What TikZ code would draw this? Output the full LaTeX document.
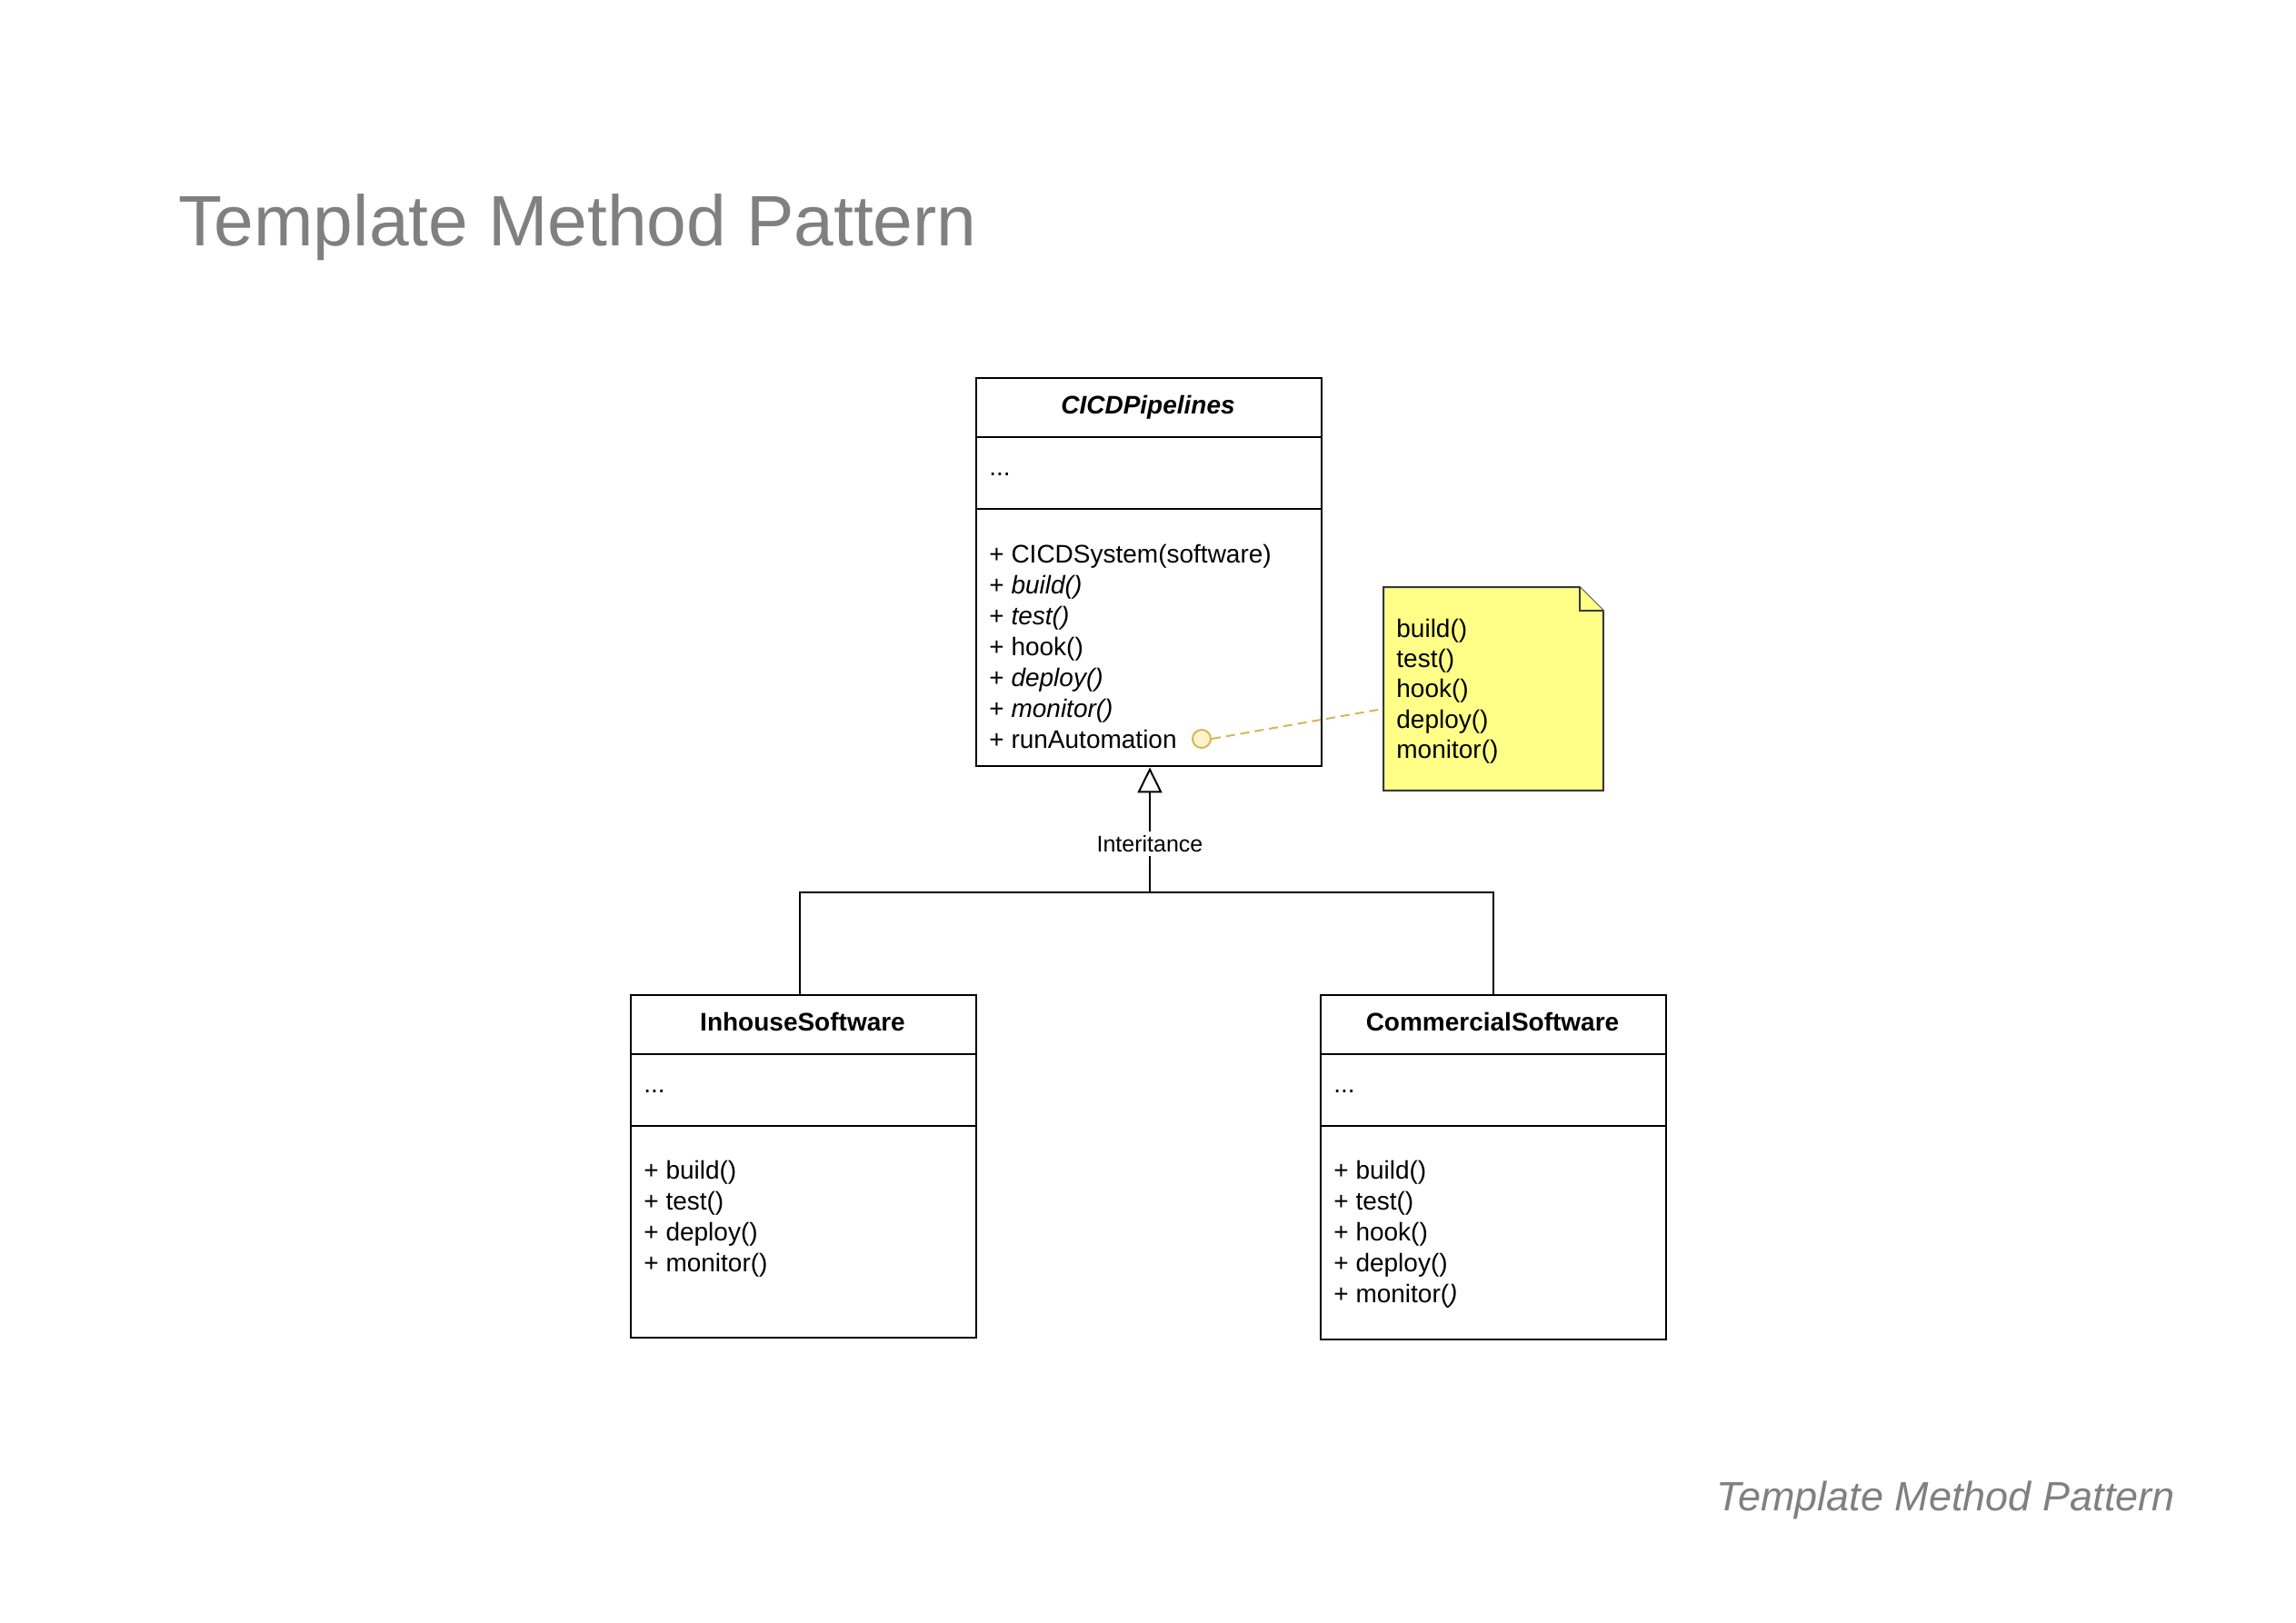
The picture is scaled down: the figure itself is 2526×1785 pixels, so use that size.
\documentclass[tikz,border=0pt]{standalone}
\usepackage{fontspec}
\setmainfont{Liberation Sans}
\usetikzlibrary{arrows.meta}
\definecolor{titlegray}{HTML}{808080}
\definecolor{notefill}{HTML}{FFFF88}
\definecolor{noteline}{HTML}{36393D}
\definecolor{circfill}{HTML}{FFF2CC}
\definecolor{circline}{HTML}{D6B656}
\begin{document}
\begin{tikzpicture}[x=0.5pt,y=-0.5pt,
  classbox/.style={draw, line width=1.2pt, rectangle, anchor=north west, minimum width=190pt, inner sep=0pt},
  sepline/.style={line width=1.2pt},
  member/.style={anchor=base west, inner sep=0pt, font=\fontsize{14}{16}\selectfont},
  ctitle/.style={anchor=base, inner sep=0pt, font=\fontsize{14}{16}\selectfont\bfseries},
  conn/.style={line width=1pt},
  notebox/.style={draw=noteline, fill=notefill, line width=1pt, line join=miter},
  dashline/.style={draw=circline, line width=1pt, dash pattern=on 5pt off 3pt},
  bigtitle/.style={anchor=base west, inner sep=0pt, text=titlegray, font=\fontsize{39.3}{44}\selectfont},
  foottitle/.style={anchor=base east, inner sep=0pt, text=titlegray, font=\fontsize{22.5}{26}\selectfont\itshape}
]
\useasboundingbox (0,0) rectangle (2526,1785);

% titles
\node[bigtitle] (title) at (196,270) {Template Method Pattern};
\node[foottitle] (foot) at (2393,1662) {Template Method Pattern};

% CICDPipelines
\node[classbox, minimum height=213.5pt] (cicd) at (1073,415) {};
\draw[sepline] (cicd.west |- 0,481) -- (cicd.east |- 0,481);
\draw[sepline] (cicd.west |- 0,560) -- (cicd.east |- 0,560);
\node[ctitle] (cicdt) at (1263,455) {\textit{CICDPipelines}};
\node[member] (cicda) at (1088,523) {...};
\node[member] (cm1) at (1088,619) {+ CICDSystem(software)};
\node[member] (cm2) at (1088,653) {+ \textit{build()}};
\node[member] (cm3) at (1088,687) {+ \textit{test()}};
\node[member] (cm4) at (1088,721) {+ hook()};
\node[member] (cm5) at (1088,755) {+ \textit{deploy()}};
\node[member] (cm6) at (1088,789) {+ \textit{monitor()}};
\node[member] (cm7) at (1088,823) {+ runAutomation};
\node[circle, draw=circline, fill=circfill, line width=1pt, minimum size=10pt, inner sep=0pt] (circ) at (1322,813) {};

% note
\node[anchor=north west, minimum width=120.5pt, minimum height=111.5pt, inner sep=0pt] (note) at (1522,646) {};
\draw[notebox] (note.north west) -- ([xshift=-13pt]note.north east) -- ([yshift=-13pt]note.north east) -- (note.south east) -- (note.south west) -- cycle;
\draw[notebox] ([xshift=-13pt]note.north east) -- ([xshift=-13pt,yshift=-13pt]note.north east) -- ([yshift=-13pt]note.north east);
\node[member] (n1) at (1536,701) {build()};
\node[member] (n2) at (1536,734) {test()};
\node[member] (n3) at (1536,767) {hook()};
\node[member] (n4) at (1536,801) {deploy()};
\node[member] (n5) at (1536,834) {monitor()};
\coordinate (nattach) at (1522,780);
\draw[dashline] (circ.east) -- (nattach);

% InhouseSoftware
\node[classbox, minimum height=188.5pt] (inh) at (693,1094) {};
\draw[sepline] (inh.west |- 0,1160) -- (inh.east |- 0,1160);
\draw[sepline] (inh.west |- 0,1239) -- (inh.east |- 0,1239);
\node[ctitle] (inht) at (883,1134) {InhouseSoftware};
\node[member] (inha) at (708,1202) {...};
\node[member] (im1) at (708,1297) {+ build()};
\node[member] (im2) at (708,1331) {+ test()};
\node[member] (im3) at (708,1365) {+ deploy()};
\node[member] (im4) at (708,1399) {+ monitor()};

% CommercialSoftware
\node[classbox, minimum height=189.5pt] (com) at (1452,1094) {};
\draw[sepline] (com.west |- 0,1160) -- (com.east |- 0,1160);
\draw[sepline] (com.west |- 0,1239) -- (com.east |- 0,1239);
\node[ctitle] (comt) at (1642,1134) {CommercialSoftware};
\node[member] (coma) at (1467,1202) {...};
\node[member] (om1) at (1467,1297) {+ build()};
\node[member] (om2) at (1467,1331) {+ test()};
\node[member] (om3) at (1467,1365) {+ hook()};
\node[member] (om4) at (1467,1399) {+ deploy()};
\node[member] (om5) at (1467,1433) {+ monitor(\textit{)}};

% inheritance
\coordinate (j) at (1265,982);
\draw[conn] ([xshift=-2pt]inh.north) |- (j) -| (com.north);
\draw[conn, -{Triangle[open, width=13.5pt, length=14pt]}] (j) -- node[pos=0.39, fill=white, inner sep=2pt, font=\fontsize{12.5}{14}\selectfont] (lbl) {Interitance} (j |- cicd.south);
\end{tikzpicture}
\end{document}
